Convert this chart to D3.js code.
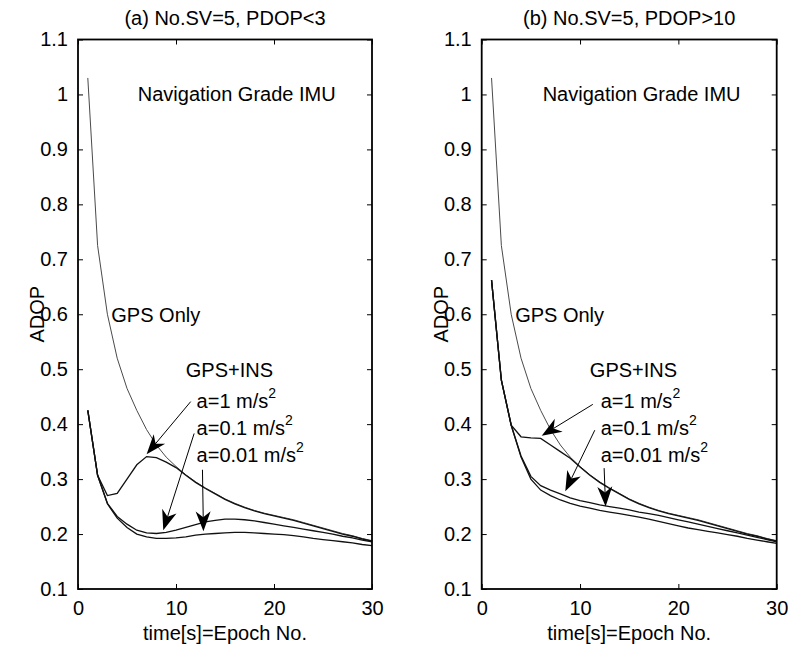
<!DOCTYPE html>
<head>
  <meta charset="utf-8">
  <script src="https://d3js.org/d3.v7.min.js"></script>
  <style>
    body { margin: 0; background: #fff; }
    text { font-family: Arial, "Liberation Sans", sans-serif; font-size: 20px; fill: #000; }
    path.domain { display: none; }
  </style>
</head>
<body>
<script>
  // epochs 1..30
  var epochs = d3.range(1, 31);

  var panelTitles = ["(a) No.SV=5, PDOP<3", "(b) No.SV=5, PDOP>10"];
  var xTicks = [0, 10, 20, 30];
  var yTicks = [0.1, 0.2, 0.3, 0.4, 0.5, 0.6, 0.7, 0.8, 0.9, 1, 1.1];

  // GPS only, same in both panels
  var gpsOnly = [1.03, 0.725, 0.60, 0.52, 0.465, 0.425, 0.39, 0.362, 0.34, 0.323,
                 0.308, 0.295, 0.284, 0.274, 0.264, 0.256, 0.249, 0.243, 0.238, 0.234,
                 0.23, 0.226, 0.221, 0.216, 0.211, 0.206, 0.201, 0.197, 0.192, 0.188];

  // (a) PDOP<3
  var a1_left = [0.425, 0.307, 0.27, 0.274, 0.30, 0.326, 0.341, 0.339, 0.331, 0.321,
                 0.307, 0.294, 0.283, 0.273, 0.263, 0.255, 0.248, 0.242, 0.237, 0.233,
                 0.229, 0.225, 0.22, 0.215, 0.21, 0.205, 0.2, 0.196, 0.191, 0.187];
  var a01_left = [0.425, 0.307, 0.256, 0.232, 0.218, 0.207, 0.202, 0.201, 0.203, 0.207,
                  0.212, 0.217, 0.222, 0.225, 0.227, 0.227, 0.226, 0.224, 0.221, 0.218,
                  0.215, 0.212, 0.209, 0.206, 0.203, 0.2, 0.196, 0.193, 0.189, 0.186];
  var a001_left = [0.425, 0.307, 0.255, 0.229, 0.212, 0.2, 0.195, 0.192, 0.192, 0.193,
                   0.195, 0.198, 0.2, 0.201, 0.202, 0.203, 0.203, 0.202, 0.201, 0.2,
                   0.199, 0.197, 0.195, 0.192, 0.19, 0.188, 0.186, 0.184, 0.181, 0.179];

  // (b) PDOP>10
  var a1_right = [0.662, 0.48, 0.398, 0.377, 0.375, 0.374, 0.362, 0.35, 0.338, 0.322,
                  0.307, 0.294, 0.283, 0.273, 0.263, 0.255, 0.248, 0.242, 0.237, 0.233,
                  0.229, 0.225, 0.22, 0.215, 0.21, 0.205, 0.2, 0.196, 0.191, 0.187];
  var a01_right = [0.662, 0.48, 0.398, 0.342, 0.305, 0.288, 0.28, 0.273, 0.266, 0.261,
                   0.257, 0.253, 0.25, 0.247, 0.244, 0.24, 0.237, 0.234, 0.23, 0.226,
                   0.222, 0.218, 0.214, 0.21, 0.206, 0.202, 0.198, 0.194, 0.19, 0.186];
  var a001_right = [0.662, 0.48, 0.398, 0.34, 0.3, 0.28, 0.27, 0.262, 0.256, 0.251,
                    0.247, 0.243, 0.24, 0.237, 0.234, 0.231, 0.227, 0.223, 0.219, 0.215,
                    0.211, 0.208, 0.205, 0.202, 0.199, 0.196, 0.192, 0.189, 0.186, 0.183];

  // arrow annotations [tailT, tailV, tipT, tipV] in data units
  var arrows_left = [[11.5, 0.441, 7.0, 0.345], [11.85, 0.383, 8.7, 0.207], [12.7, 0.317, 12.8, 0.205]];
  var arrows_right = [[11.3, 0.436, 6.1, 0.379], [11.5, 0.389, 8.5, 0.278], [12.45, 0.32, 12.6, 0.25]];

  var width = 790, height = 652;
  var svg = d3.select("body").append("svg")
    .attr("width", width)
    .attr("height", height);

  var panels = [
    { title: panelTitles[0], x0: 78, x1: 372, ins: [a1_left, a01_left, a001_left], arrows: arrows_left,
      navT: 6.1, gpsT: 3.4, insT: 11.0, labT: 12.1 },
    { title: panelTitles[1], x0: 481.7, x1: 776.7, ins: [a1_right, a01_right, a001_right], arrows: arrows_right,
      navT: 6.2, gpsT: 3.4, insT: 11.0, labT: 12.1 }
  ];

  var plotTop = 39.5, plotBottom = 589;

  panels.forEach(function(p) {
    var x = d3.scaleLinear().domain([0, 30]).range([p.x0, p.x1]);
    var y = d3.scaleLinear().domain([0.1, 1.1]).range([plotBottom, plotTop]);
    var g = svg.append("g");

    // lines
    var line = d3.line().x((d, i) => x(epochs[i])).y(d => y(d));
    g.append("path").datum(gpsOnly)
      .attr("d", line)
      .attr("fill", "none")
      .attr("stroke", "#4a4a4a")
      .attr("stroke-width", 1);
    g.selectAll("path.ins").data(p.ins).enter().append("path")
      .attr("class", "ins")
      .attr("d", line)
      .attr("fill", "none")
      .attr("stroke", "#111")
      .attr("stroke-width", 1.3);

    // axes, ticks inward on all sides
    var tl = 5;
    g.append("g").attr("transform", `translate(0,${plotBottom})`)
      .call(d3.axisBottom(x).tickValues(xTicks).tickSize(-tl).tickPadding(12));
    g.append("g").attr("transform", `translate(0,${plotTop})`)
      .call(d3.axisTop(x).tickValues(xTicks).tickSize(-tl).tickFormat(""));
    g.append("g").attr("transform", `translate(${p.x0},0)`)
      .call(d3.axisLeft(y).tickValues(yTicks).tickSize(-tl).tickPadding(10).tickFormat(d3.format("~g")));
    g.append("g").attr("transform", `translate(${p.x1},0)`)
      .call(d3.axisRight(y).tickValues(yTicks).tickSize(-tl).tickFormat(""));
    g.selectAll(".tick line").attr("stroke", "#000").attr("stroke-width", 1);
    g.selectAll(".tick text").attr("fill", "#000")
      .style("font-family", 'Arial, "Liberation Sans", sans-serif').style("font-size", "20px");

    g.append("rect")
      .attr("x", p.x0).attr("y", plotTop)
      .attr("width", p.x1 - p.x0).attr("height", plotBottom - plotTop)
      .attr("fill", "none").attr("stroke", "#000").attr("stroke-width", 1.8);

    // title and axis labels
    var cx = (p.x0 + p.x1) / 2;
    g.append("text").attr("x", cx).attr("y", 25).attr("text-anchor", "middle").text(p.title);
    g.append("text").attr("x", cx).attr("y", 640).attr("text-anchor", "middle").text("time[s]=Epoch No.");
    g.append("text")
      .attr("transform", `translate(${p.x0 - 34},${(plotTop + plotBottom) / 2}) rotate(-90)`)
      .attr("text-anchor", "middle").text("ADOP");

    // annotations
    g.append("text").attr("x", x(p.navT)).attr("y", y(1.0) + 7).text("Navigation Grade IMU");
    g.append("text").attr("x", x(p.gpsT)).attr("y", y(0.6) + 7.5).text("GPS Only");
    g.append("text").attr("x", x(p.insT)).attr("y", y(0.5) + 7.5).text("GPS+INS");
    var labs = ["a=1 m/s", "a=0.1 m/s", "a=0.01 m/s"];
    labs.forEach(function(s, i) {
      var t = g.append("text").attr("x", x(p.labT)).attr("y", y(0.5) + 39 + i * 27);
      t.append("tspan").text(s);
      t.append("tspan").attr("dy", -10).style("font-size", "14px").text("2");
    });

    p.arrows.forEach(function(a) {
      var x1 = x(a[0]), y1 = y(a[1]), x2 = x(a[2]), y2 = y(a[3]);
      var ang = Math.atan2(y2 - y1, x2 - x1);
      var L = 20, W = 7.5, notch = 14;
      var ux = Math.cos(ang), uy = Math.sin(ang);
      var px = -uy, py = ux;
      g.append("line").attr("x1", x1).attr("y1", y1)
        .attr("x2", x2 - notch * ux).attr("y2", y2 - notch * uy)
        .attr("stroke", "#000").attr("stroke-width", 1);
      var pts = [
        [x2, y2],
        [x2 - L * ux + W * px, y2 - L * uy + W * py],
        [x2 - notch * ux, y2 - notch * uy],
        [x2 - L * ux - W * px, y2 - L * uy - W * py]
      ];
      g.append("path").attr("d", "M" + pts.map(q => q.join(",")).join("L") + "Z")
        .attr("fill", "#000");
    });
  });
</script>
</body>
